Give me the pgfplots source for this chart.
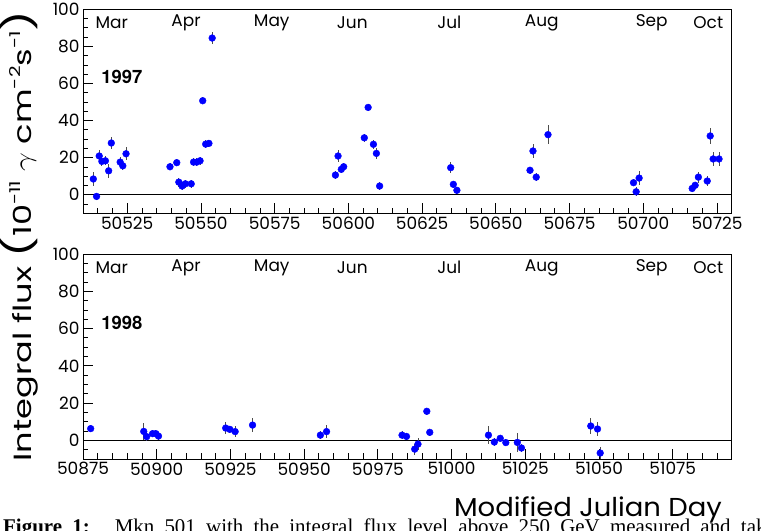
\documentclass[border=0pt]{standalone}
\usepackage{fontspec}
\setmainfont{Poppins}
\newfontfamily\helv{TeX Gyre Heros}
\newfontfamily\timesf{Liberation Serif}
\usepackage{pgfplots}
\usepackage{pgfplotstable}
\pgfplotsset{compat=1.18}

\pgfplotstableread{
x y e
50513.5 8.5 3.6
50514.6 -0.9 2.0
50515.5 20.9 3.1
50516.4 18.0 2.5
50517.6 18.3 2.5
50518.7 12.9 3.8
50519.6 27.9 3.4
50522.6 17.6 2.5
50523.5 15.6 2.5
50524.6 22.1 3.4
50539.5 15.1 2.0
50541.8 17.3 2.0
50542.5 6.8 2.5
50543.6 4.7 2.0
50544.7 5.9 2.0
50546.7 5.9 2.0
50547.5 17.6 2.0
50548.6 17.6 2.0
50549.7 18.3 2.0
50550.6 50.7 2.0
50551.6 27.3 2.0
50552.7 27.7 2.0
50553.8 84.5 3.0
50595.6 10.6 2.0
50596.5 20.9 3.4
50597.6 13.7 2.0
50598.4 15.1 2.0
50605.4 30.7 2.0
50606.7 47.1 2.0
50608.5 27.2 2.5
50609.5 22.3 3.0
50610.6 4.7 2.0
50634.7 14.6 3.0
50635.6 5.6 2.0
50636.8 2.4 2.0
50661.6 13.2 2.0
50662.6 23.6 3.7
50663.7 9.5 2.0
50667.7 32.4 5.0
50696.7 6.5 2.0
50697.6 1.6 2.4
50698.6 9.0 3.6
50716.6 3.4 2.0
50717.6 5.1 2.0
50718.7 9.5 3.0
50721.7 7.4 2.9
50722.7 31.7 4.3
50723.7 19.3 4.0
50725.7 19.3 4.0
}\dataA

\pgfplotstableread{
x y e
50877.6 6.3 2.0
50895.6 4.8 4.4
50896.6 2.0 2.5
50898.6 3.6 2.0
50899.7 3.6 2.0
50900.6 2.3 2.0
50923.4 6.6 3.1
50924.8 5.9 2.0
50926.6 4.7 3.0
50932.5 8.2 3.6
50955.5 2.8 2.0
50957.6 4.7 3.3
50983.2 2.8 2.0
50984.7 2.1 2.0
50987.5 -4.7 3.0
50988.6 -2.0 3.0
50991.6 15.6 2.0
50992.6 4.3 2.0
51012.5 2.8 5.0
51014.5 -0.9 2.0
51016.5 1.1 2.0
51018.4 -1.2 2.0
51022.3 -1.1 5.0
51023.7 -4.1 2.0
51047.2 7.7 4.5
51049.5 6.1 3.8
51050.4 -6.8 3.4
}\dataB

\pgfplotsset{
  mkn/.style={
    scale only axis, width=648.7bp,
    ymin=-10, ymax=100,
    axis line style={line width=0.8bp},
    tick align=inside, tick pos=left,
    ytick={0,20,40,60,80,100},
    minor ytick={-5,5,10,15,25,30,35,45,50,55,65,70,75,85,90,95},
    major tick length=10bp, minor tick length=5.5bp,
    tick style={black, line width=0.8bp},
    scaled x ticks=false,
    /pgf/number format/1000 sep={},
    /pgf/number format/assume math mode=true,
    ticklabel style={font=\fontsize{17}{17}\selectfont},
    clip=false,
  },
  pts/.style={only marks, mark=*, mark size=3.4bp, blue,
    mark options={draw=blue, fill=blue},
    error bars/.cd, y dir=both, y explicit, error mark=none,
    error bar style={black!70, line width=0.9bp}},
}

\newcommand\months{%
  \node[font=\fontsize{17}{17}\selectfont] at (rel axis cs:0.0442,0.934) {Mar};
  \node[font=\fontsize{17}{17}\selectfont] at (rel axis cs:0.1588,0.934) {Apr};
  \node[font=\fontsize{17}{17}\selectfont] at (rel axis cs:0.2909,0.934) {May};
  \node[font=\fontsize{17}{17}\selectfont] at (rel axis cs:0.4151,0.934) {Jun};
  \node[font=\fontsize{17}{17}\selectfont] at (rel axis cs:0.5647,0.934) {Jul};
  \node[font=\fontsize{17}{17}\selectfont] at (rel axis cs:0.7071,0.934) {Aug};
  \node[font=\fontsize{17}{17}\selectfont] at (rel axis cs:0.8767,0.934) {Sep};
  \node[font=\fontsize{17}{17}\selectfont] at (rel axis cs:0.9639,0.934) {Oct};
}

\begin{document}
\begin{tikzpicture}
\useasboundingbox (0,0) rectangle (761bp,531bp);
\clip (0,0) rectangle (761bp,531bp);

\begin{axis}[mkn, height=204bp, at={(83bp,317.7bp)}, anchor=south west,
  xmin=50510, xmax=50730,
  xtick={50525,50550,50575,50600,50625,50650,50675,50700,50725},
  xticklabels={50525,50550,50575,50600,50625,50650,50675,50700,50725},
  minor xtick={50515,50520,50530,50535,50540,50545,50555,50560,50565,50570,50580,50585,50590,50595,50605,50610,50615,50620,50630,50635,50640,50645,50655,50660,50665,50670,50680,50685,50690,50695,50705,50710,50715,50720,50730}]
  \addplot[black, line width=0.8bp] coordinates {(50510,0) (50730,0)};
  \addplot[pts] table[x=x, y=y, y error=e] {\dataA};
  \months
  \node[font=\helv\bfseries\fontsize{18.5}{18.5}\selectfont] at (rel axis cs:0.060,0.667) {1997};
\end{axis}

\begin{axis}[mkn, height=205bp, at={(83bp,72bp)}, anchor=south west,
  xmin=50875, xmax=51095,
  xtick={50875,50900,50925,50950,50975,51000,51025,51050,51075},
  xticklabels={50875,50900,50925,50950,50975,51000,51025,51050,51075},
  minor xtick={50880,50885,50890,50895,50905,50910,50915,50920,50930,50935,50940,50945,50955,50960,50965,50970,50980,50985,50990,50995,51005,51010,51015,51020,51030,51035,51040,51045,51055,51060,51065,51070,51080,51085,51090,51095}]
  \addplot[black, line width=0.8bp] coordinates {(50875,0) (51095,0)};
  \addplot[pts] table[x=x, y=y, y error=e] {\dataB};
  \months
  \node[font=\helv\bfseries\fontsize{18.5}{18.5}\selectfont] at (rel axis cs:0.060,0.665) {1998};
\end{axis}

\node[rotate=90, font=\fontsize{25}{25}\selectfont] at (19bp,295bp)
  {\scalebox{1.35}[1]{Integral flux {\fontsize{34}{34}\selectfont(}10\raisebox{0.45em}{\fontsize{15}{15}\selectfont -11} $\gamma$ cm\raisebox{0.45em}{\fontsize{15}{15}\selectfont -2}s\raisebox{0.45em}{\fontsize{15}{15}\selectfont -1}{\fontsize{34}{34}\selectfont)}}};

\node[anchor=base east, font=\fontsize{26}{26}\selectfont, inner sep=0] at (722bp,15bp) {\scalebox{1.06}[1]{Modified Julian Day}};

\node[anchor=base west, font=\timesf\fontsize{21}{21}\selectfont, inner sep=0] at (3bp,-2.5bp)
  {\makebox[790bp][s]{\textbf{Figure 1:}\hspace{8bp} Mkn 501 with the integral flux level above 250 GeV measured and taking}};
\end{tikzpicture}
\end{document}
